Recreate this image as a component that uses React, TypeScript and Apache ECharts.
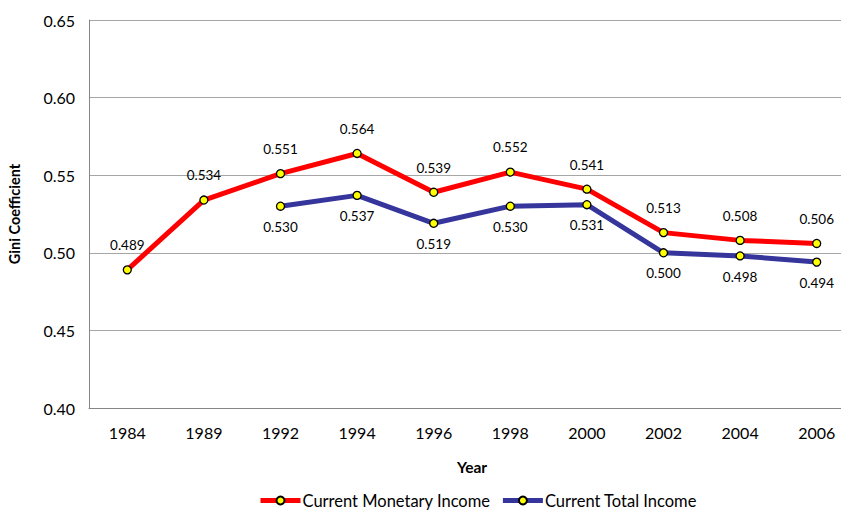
import React, { useEffect, useRef } from "react";
import * as echarts from "echarts";

const years = ["1984", "1989", "1992", "1994", "1996", "1998", "2000", "2002", "2004", "2006"];
const monetary = [0.489, 0.534, 0.551, 0.564, 0.539, 0.552, 0.541, 0.513, 0.508, 0.506];
const total = [null, null, 0.53, 0.537, 0.519, 0.53, 0.531, 0.5, 0.498, 0.494];
const seriesNames = ["Current Monetary Income", "Current Total Income"];

const FONT = "Lato, 'Liberation Sans', sans-serif";

export default function App() {
  const ref = useRef<HTMLDivElement>(null);
  useEffect(() => {
    document.body.style.margin = "0";
    document.body.style.overflow = "hidden";
    if (!ref.current) return;
    const chart = echarts.init(ref.current, undefined, { renderer: "svg" });
    const marker = {
      symbol: "circle",
      symbolSize: 8,
      itemStyle: { color: "#FFFF00", borderColor: "#000000", borderWidth: 1.3 },
    };
    chart.setOption({
      animation: false,
      textStyle: { fontFamily: FONT },
      grid: {
        left: 89,
        width: 766,
        top: 20,
        bottom: 104,
        containLabel: false,
        outerBoundsMode: "none",
      },
      legend: {
        left: 253,
        bottom: -2,
        itemWidth: 40,
        itemHeight: 10,
        itemGap: 10,
        lineStyle: { width: 5 },
        textStyle: { fontFamily: FONT, fontSize: 16.5, color: "#000", padding: [0, 0, 0, -3] },
        data: seriesNames,
      },
      xAxis: {
        type: "category",
        data: years,
        boundaryGap: true,
        name: "Year",
        nameLocation: "middle",
        nameGap: 51,
        nameTextStyle: { fontFamily: FONT, fontSize: 15.5, fontWeight: "bold", color: "#000" },
        axisLine: { show: true, lineStyle: { color: "#868686", width: 1 } },
        axisTick: { show: false },
        axisLabel: { color: "#000", fontSize: 16, margin: 16, fontFamily: FONT },
      },
      yAxis: {
        type: "value",
        min: 0.4,
        max: 0.65,
        interval: 0.05,
        name: "Gini Coefficient",
        nameLocation: "middle",
        nameGap: 67,
        nameRotate: 90,
        nameTextStyle: { fontFamily: FONT, fontSize: 14.5, fontWeight: "bold", color: "#000" },
        axisLine: { show: true, lineStyle: { color: "#868686", width: 1 } },
        axisTick: { show: false },
        splitLine: { show: true, lineStyle: { color: "#A6A6A6", width: 1 } },
        axisLabel: {
          color: "#000",
          fontSize: 16,
          margin: 14,
          fontFamily: FONT,
          formatter: (v: number) => v.toFixed(2),
        },
      },
      series: [
        {
          name: seriesNames[0],
          type: "line",
          data: monetary,
          ...marker,
          lineStyle: { color: "#FF0000", width: 5 },
          color: "#FF0000",
          z: 2,
          label: {
            show: true,
            position: "top",
            distance: 13,
            fontSize: 13.5,
            color: "#000",
            fontFamily: FONT,
            formatter: (p: any) => Number(p.value).toFixed(3),
          },
        },
        {
          name: seriesNames[1],
          type: "line",
          data: total,
          ...marker,
          lineStyle: { color: "#35359B", width: 5 },
          color: "#35359B",
          z: 3,
          label: {
            show: true,
            position: "bottom",
            distance: 9,
            fontSize: 13.5,
            color: "#000",
            fontFamily: FONT,
            formatter: (p: any) => Number(p.value).toFixed(3),
          },
        },
      ],
    });
    return () => chart.dispose();
  }, []);
  return <div ref={ref} style={{ width: 841, height: 512 }} />;
}
